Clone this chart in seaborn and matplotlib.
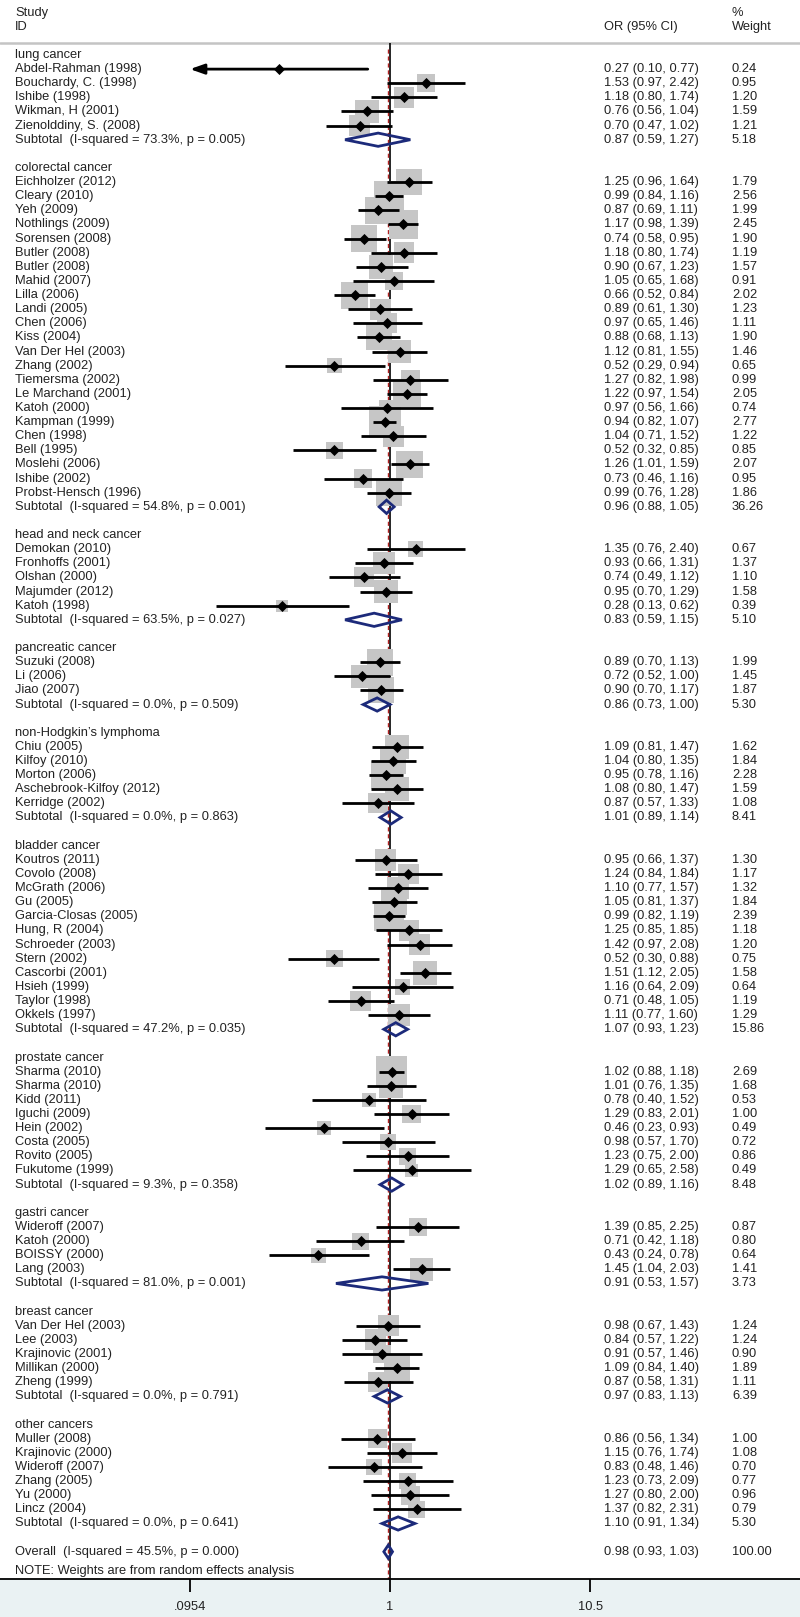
import numpy as np
import pandas as pd
import seaborn as sns
import matplotlib.pyplot as plt
from matplotlib.patches import Polygon

# -------------------- data -------------------- #

group_names = ["lung cancer", "colorectal cancer", "head and neck cancer", "pancreatic cancer",
               "non-Hodgkin\u2019s lymphoma", "bladder cancer", "prostate cancer", "gastri cancer",
               "breast cancer", "other cancers"]
group_sizes = [5, 23, 5, 3, 5, 12, 8, 4, 5, 6]

study = [
    "Abdel-Rahman (1998)", "Bouchardy, C. (1998)", "Ishibe (1998)", "Wikman, H (2001)", "Zienolddiny, S. (2008)",
    "Eichholzer (2012)", "Cleary (2010)", "Yeh (2009)", "Nothlings (2009)", "Sorensen (2008)", "Butler (2008)",
    "Butler (2008)", "Mahid (2007)", "Lilla (2006)", "Landi (2005)", "Chen (2006)", "Kiss (2004)",
    "Van Der Hel (2003)", "Zhang (2002)", "Tiemersma (2002)", "Le Marchand (2001)", "Katoh (2000)",
    "Kampman (1999)", "Chen (1998)", "Bell (1995)", "Moslehi (2006)", "Ishibe (2002)", "Probst-Hensch (1996)",
    "Demokan (2010)", "Fronhoffs (2001)", "Olshan (2000)", "Majumder (2012)", "Katoh (1998)",
    "Suzuki (2008)", "Li (2006)", "Jiao (2007)",
    "Chiu (2005)", "Kilfoy (2010)", "Morton (2006)", "Aschebrook-Kilfoy (2012)", "Kerridge (2002)",
    "Koutros (2011)", "Covolo (2008)", "McGrath (2006)", "Gu (2005)", "Garcia-Closas (2005)", "Hung, R (2004)",
    "Schroeder (2003)", "Stern (2002)", "Cascorbi (2001)", "Hsieh (1999)", "Taylor (1998)", "Okkels (1997)",
    "Sharma (2010)", "Sharma (2010)", "Kidd (2011)", "Iguchi (2009)", "Hein (2002)", "Costa (2005)",
    "Rovito (2005)", "Fukutome (1999)",
    "Wideroff (2007)", "Katoh (2000)", "BOISSY (2000)", "Lang (2003)",
    "Van Der Hel (2003)", "Lee (2003)", "Krajinovic (2001)", "Millikan (2000)", "Zheng (1999)",
    "Muller (2008)", "Krajinovic (2000)", "Wideroff (2007)", "Zhang (2005)", "Yu (2000)", "Lincz (2004)",
]
odds = [0.27, 1.53, 1.18, 0.76, 0.70,
        1.25, 0.99, 0.87, 1.17, 0.74, 1.18, 0.90, 1.05, 0.66, 0.89, 0.97, 0.88, 1.12, 0.52, 1.27, 1.22,
        0.97, 0.94, 1.04, 0.52, 1.26, 0.73, 0.99,
        1.35, 0.93, 0.74, 0.95, 0.28,
        0.89, 0.72, 0.90,
        1.09, 1.04, 0.95, 1.08, 0.87,
        0.95, 1.24, 1.10, 1.05, 0.99, 1.25, 1.42, 0.52, 1.51, 1.16, 0.71, 1.11,
        1.02, 1.01, 0.78, 1.29, 0.46, 0.98, 1.23, 1.29,
        1.39, 0.71, 0.43, 1.45,
        0.98, 0.84, 0.91, 1.09, 0.87,
        0.86, 1.15, 0.83, 1.23, 1.27, 1.37]
lower = [0.10, 0.97, 0.80, 0.56, 0.47,
         0.96, 0.84, 0.69, 0.98, 0.58, 0.80, 0.67, 0.65, 0.52, 0.61, 0.65, 0.68, 0.81, 0.29, 0.82, 0.97,
         0.56, 0.82, 0.71, 0.32, 1.01, 0.46, 0.76,
         0.76, 0.66, 0.49, 0.70, 0.13,
         0.70, 0.52, 0.70,
         0.81, 0.80, 0.78, 0.80, 0.57,
         0.66, 0.84, 0.77, 0.81, 0.82, 0.85, 0.97, 0.30, 1.12, 0.64, 0.48, 0.77,
         0.88, 0.76, 0.40, 0.83, 0.23, 0.57, 0.75, 0.65,
         0.85, 0.42, 0.24, 1.04,
         0.67, 0.57, 0.57, 0.84, 0.58,
         0.56, 0.76, 0.48, 0.73, 0.80, 0.82]
upper = [0.77, 2.42, 1.74, 1.04, 1.02,
         1.64, 1.16, 1.11, 1.39, 0.95, 1.74, 1.23, 1.68, 0.84, 1.30, 1.46, 1.13, 1.55, 0.94, 1.98, 1.54,
         1.66, 1.07, 1.52, 0.85, 1.59, 1.16, 1.28,
         2.40, 1.31, 1.12, 1.29, 0.62,
         1.13, 1.00, 1.17,
         1.47, 1.35, 1.16, 1.47, 1.33,
         1.37, 1.84, 1.57, 1.37, 1.19, 1.85, 2.08, 0.88, 2.05, 2.09, 1.05, 1.60,
         1.18, 1.35, 1.52, 2.01, 0.93, 1.70, 2.00, 2.58,
         2.25, 1.18, 0.78, 2.03,
         1.43, 1.22, 1.46, 1.40, 1.31,
         1.34, 1.74, 1.46, 2.09, 2.00, 2.31]
weight = [0.24, 0.95, 1.20, 1.59, 1.21,
          1.79, 2.56, 1.99, 2.45, 1.90, 1.19, 1.57, 0.91, 2.02, 1.23, 1.11, 1.90, 1.46, 0.65, 0.99, 2.05,
          0.74, 2.77, 1.22, 0.85, 2.07, 0.95, 1.86,
          0.67, 1.37, 1.10, 1.58, 0.39,
          1.99, 1.45, 1.87,
          1.62, 1.84, 2.28, 1.59, 1.08,
          1.30, 1.17, 1.32, 1.84, 2.39, 1.18, 1.20, 0.75, 1.58, 0.64, 1.19, 1.29,
          2.69, 1.68, 0.53, 1.00, 0.49, 0.72, 0.86, 0.49,
          0.87, 0.80, 0.64, 1.41,
          1.24, 1.24, 0.90, 1.89, 1.11,
          1.00, 1.08, 0.70, 0.77, 0.96, 0.79]

sub_i2 = [73.3, 54.8, 63.5, 0.0, 0.0, 47.2, 9.3, 81.0, 0.0, 0.0]
sub_p = [0.005, 0.001, 0.027, 0.509, 0.863, 0.035, 0.358, 0.001, 0.791, 0.641]
sub_or = [0.87, 0.96, 0.83, 0.86, 1.01, 1.07, 1.02, 0.91, 0.97, 1.10]
sub_lo = [0.59, 0.88, 0.59, 0.73, 0.89, 0.93, 0.89, 0.53, 0.83, 0.91]
sub_hi = [1.27, 1.05, 1.15, 1.00, 1.14, 1.23, 1.16, 1.57, 1.13, 1.34]
sub_w = [5.18, 36.26, 5.10, 5.30, 8.41, 15.86, 8.48, 3.73, 6.39, 5.30]

overall = dict(i2=45.5, p=0.000, odds=0.98, lo=0.93, hi=1.03, w=100.00)
x_ticks = [0.0954, 1, 10.5]
x_ticklabels = [".0954", "1", "10.5"]

# -------------------- layout rows -------------------- #

rows = []
r = 0
k = 0
for gi, g in enumerate(group_names):
    rows.append(dict(kind="header", label=g, y=r))
    r += 1
    for _ in range(group_sizes[gi]):
        rows.append(dict(kind="study", label=study[k], y=r, odds=odds[k], lo=lower[k],
                         hi=upper[k], w=weight[k]))
        r += 1
        k += 1
    rows.append(dict(kind="sub", label=f"Subtotal  (I-squared = {sub_i2[gi]:.1f}%, p = {sub_p[gi]:.3f})",
                     y=r, odds=sub_or[gi], lo=sub_lo[gi], hi=sub_hi[gi], w=sub_w[gi]))
    r += 2
rows.append(dict(kind="sub", label=f"Overall  (I-squared = {overall['i2']:.1f}%, p = {overall['p']:.3f})",
                 y=r, odds=overall["odds"], lo=overall["lo"], hi=overall["hi"], w=overall["w"]))
note_y = r + 1.4
df = pd.DataFrame(rows)
studies = df[df.kind == "study"].copy()

# -------------------- plot -------------------- #

sns.set_style("white")
plt.rcParams["font.family"] = ["Liberation Sans", "DejaVu Sans"]
txt = "#222222"
navy = "#1c2a7a"

fig = plt.figure(figsize=(8, 16.17), dpi=100, facecolor="#eaf2f3")
ax = fig.add_axes([0, 38 / 1617, 1, 1579 / 1617])
ax.set_facecolor("white")
ax.set_xscale("log")
xmin, xmax = 10 ** (-390 / 196), 10 ** (410 / 196)
ymax_row = (1579 - 55) / 14.12
ax.set_xlim(xmin, xmax)
ax.set_ylim(ymax_row, -55 / 14.12)

# header separator, null line and overall line
ax.axhline(-0.85, color="#c4c4c4", lw=1.8, zorder=0.5)
ax.vlines(1, -0.85, ymax_row, color="black", lw=1.2, zorder=0.5)
ax.vlines(overall["odds"], -0.4, ymax_row, color="#b22222", lw=1.0, linestyles=(0, (3, 2)), zorder=0.6)

# weight boxes (the study cut off by the axis range gets an arrow instead)
x_lo = x_ticks[0]
clipped = studies.lo <= round(x_lo, 2)
maxw = studies.w.max()
sns.scatterplot(data=studies[~clipped], x="odds", y="y", size="w", sizes=(0, 187 * maxw),
                size_norm=(0, maxw), marker="s", color="#c6c6c6", linewidth=0, legend=False,
                ax=ax, zorder=1)

# confidence intervals
shown = studies[~clipped]
ax.hlines(shown.y, shown.lo, shown.hi, color="black", lw=2.0, zorder=2)
for _, s in studies[clipped].iterrows():
    ax.annotate("", xy=(x_lo, s.y), xytext=(s.hi, s.y), annotation_clip=False,
                arrowprops=dict(arrowstyle="-|>,head_length=0.85,head_width=0.3", color="black",
                                lw=2.0, mutation_scale=10, shrinkA=0, shrinkB=0), zorder=4)
sns.scatterplot(data=studies, x="odds", y="y", marker="D", s=32, color="black", linewidth=0,
                legend=False, ax=ax, zorder=3)

# pooled diamonds
for _, s in df[df.kind == "sub"].iterrows():
    ax.add_patch(Polygon([(s.lo, s.y), (s.odds, s.y - 0.47), (s.hi, s.y), (s.odds, s.y + 0.47)],
                         closed=True, fill=False, edgecolor=navy, lw=2.0, joinstyle="miter", zorder=3))

# text columns
tr = ax.get_yaxis_transform()
fs = 9.3
ax.text(15 / 800, -3, "Study", transform=tr, fontsize=fs, color=txt, va="center")
ax.text(15 / 800, -2, "ID", transform=tr, fontsize=fs, color=txt, va="center")
ax.text(604 / 800, -2, "OR (95% CI)", transform=tr, fontsize=fs, color=txt, va="center")
ax.text(732 / 800, -3, "%", transform=tr, fontsize=fs, color=txt, va="center")
ax.text(732 / 800, -2, "Weight", transform=tr, fontsize=fs, color=txt, va="center")
for _, s in df.iterrows():
    ax.text(15 / 800, s.y, s.label, transform=tr, fontsize=fs, color=txt, va="center")
    if s.kind != "header":
        ax.text(604 / 800, s.y, f"{s.odds:.2f} ({s.lo:.2f}, {s.hi:.2f})", transform=tr,
                fontsize=fs, color=txt, va="center")
        ax.text(732 / 800, s.y, f"{s.w:.2f}", transform=tr, fontsize=fs, color=txt, va="center")
ax.text(15 / 800, note_y, "NOTE: Weights are from random effects analysis", transform=tr,
        fontsize=fs, color=txt, va="center")

# axis
for side in ["top", "left", "right"]:
    ax.spines[side].set_visible(False)
ax.spines["bottom"].set_color("black")
ax.spines["bottom"].set_linewidth(1.3)
ax.set_xticks(x_ticks)
ax.set_xticklabels(x_ticklabels)
ax.xaxis.set_minor_locator(plt.NullLocator())
ax.set_yticks([])
ax.set_xlabel("")
ax.set_ylabel("")
ax.tick_params(axis="x", direction="out", length=9.5, width=1.3, pad=6, labelsize=fs,
               colors="black", labelcolor=txt, bottom=True)

fig.savefig("out.png", dpi=100, facecolor=fig.get_facecolor())
